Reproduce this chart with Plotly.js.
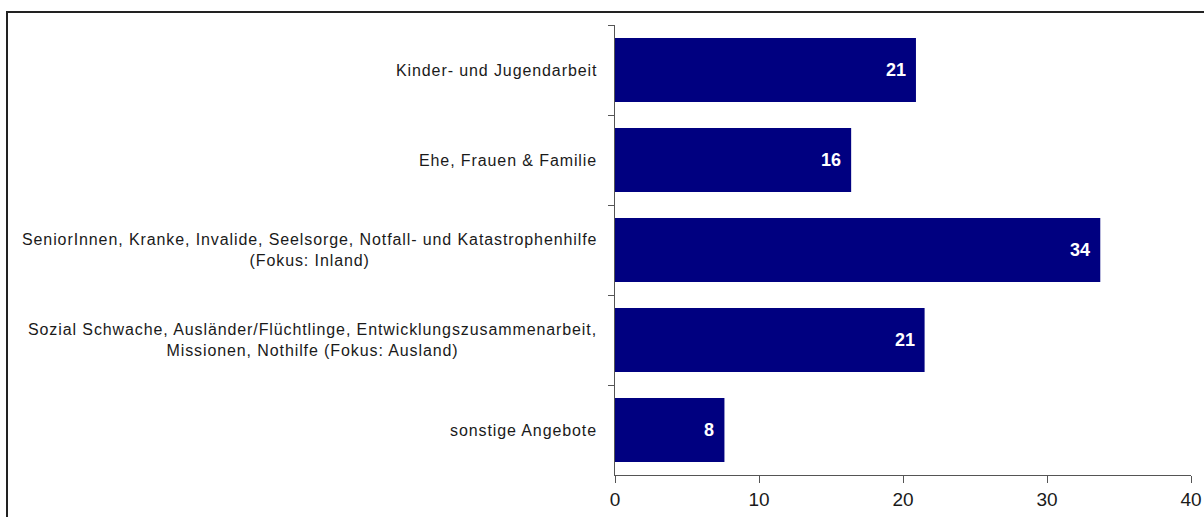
<!DOCTYPE html>
<html>
<head>
<meta charset="utf-8">
<script src="https://cdn.plot.ly/plotly-3.0.1.min.js"></script>
<style>
  html, body { margin: 0; padding: 0; background: #fff; }
  #chart { width: 1204px; height: 517px; }
</style>
</head>
<body>
<div id="chart"></div>
<script>
// Data
const categories = [
  "Kinder- und Jugendarbeit",
  "Ehe, Frauen & Familie",
  "SeniorInnen, Kranke, Invalide, Seelsorge, Notfall- und Katastrophenhilfe<br>(Fokus: Inland)",
  "Sozial Schwache, Ausländer/Flüchtlinge, Entwicklungszusammenarbeit,<br>Missionen, Nothilfe (Fokus: Ausland)",
  "sonstige Angebote"
];
const values = [20.9, 16.4, 33.7, 21.5, 7.6];
const valueLabels = ["21", "16", "34", "21", "8"];
const xTickValues = [0, 10, 20, 30, 40];

const trace = {
  type: "bar",
  orientation: "h",
  y: categories,
  x: values,
  marker: { color: "#000080", line: { width: 0 } },
  hoverinfo: "none"
};

const spacedSpan = s => '<span style="letter-spacing:0.9px">' + s + '</span>';

const catAnnotations = categories.map(c => ({
  xref: "paper", yref: "y",
  x: 0, y: c,
  xanchor: "right", yanchor: "middle",
  xshift: -16,
  text: c.split("<br>").map(spacedSpan).join("<br>"),
  align: "center",
  showarrow: false,
  font: { family: "Liberation Sans, Arial, sans-serif", size: 16, color: "#1a1a1a" }
}));

const valueAnnotations = values.map((v, i) => ({
  xref: "x", yref: "y",
  x: v, y: categories[i],
  xanchor: "right", yanchor: "middle",
  xshift: -8,
  text: valueLabels[i],
  showarrow: false,
  font: { family: "Liberation Sans, Arial, sans-serif", size: 18, color: "#ffffff", weight: "bold" }
}));

const layout = {
  width: 1204, height: 517,
  margin: { l: 615, r: 13, t: 25, b: 42, pad: 0 },
  paper_bgcolor: "#ffffff",
  plot_bgcolor: "#ffffff",
  showlegend: false,
  bargap: 0.29,
  font: { family: "Liberation Sans, Arial, sans-serif", color: "#1a1a1a" },
  xaxis: {
    range: [0, 40],
    tickvals: xTickValues,
    ticktext: xTickValues.map(String),
    ticks: "outside", ticklen: 7, tickcolor: "#555", tickwidth: 1,
    showline: true, linecolor: "#555", linewidth: 1,
    showgrid: false, zeroline: false,
    tickfont: { size: 19, color: "#1a1a1a" },
    fixedrange: true
  },
  yaxis: {
    type: "category",
    autorange: "reversed",
    showticklabels: false,
    ticks: "outside", ticklen: 6, tickcolor: "#555", tickwidth: 1,
    tickson: "boundaries",
    showline: true, linecolor: "#555", linewidth: 1,
    showgrid: false, zeroline: false,
    fixedrange: true
  },
  annotations: catAnnotations.concat(valueAnnotations),
  shapes: [
    {
      type: "rect", xref: "paper", yref: "paper",
      x0: (7 - 615) / 576, x1: 1.2,
      y0: -0.3, y1: 1 + 13 / 450,
      line: { color: "#222", width: 2 },
      fillcolor: "rgba(0,0,0,0)",
      layer: "below"
    }
  ]
};

Plotly.newPlot("chart", [trace], layout, { displayModeBar: false, staticPlot: true });
</script>
</body>
</html>
